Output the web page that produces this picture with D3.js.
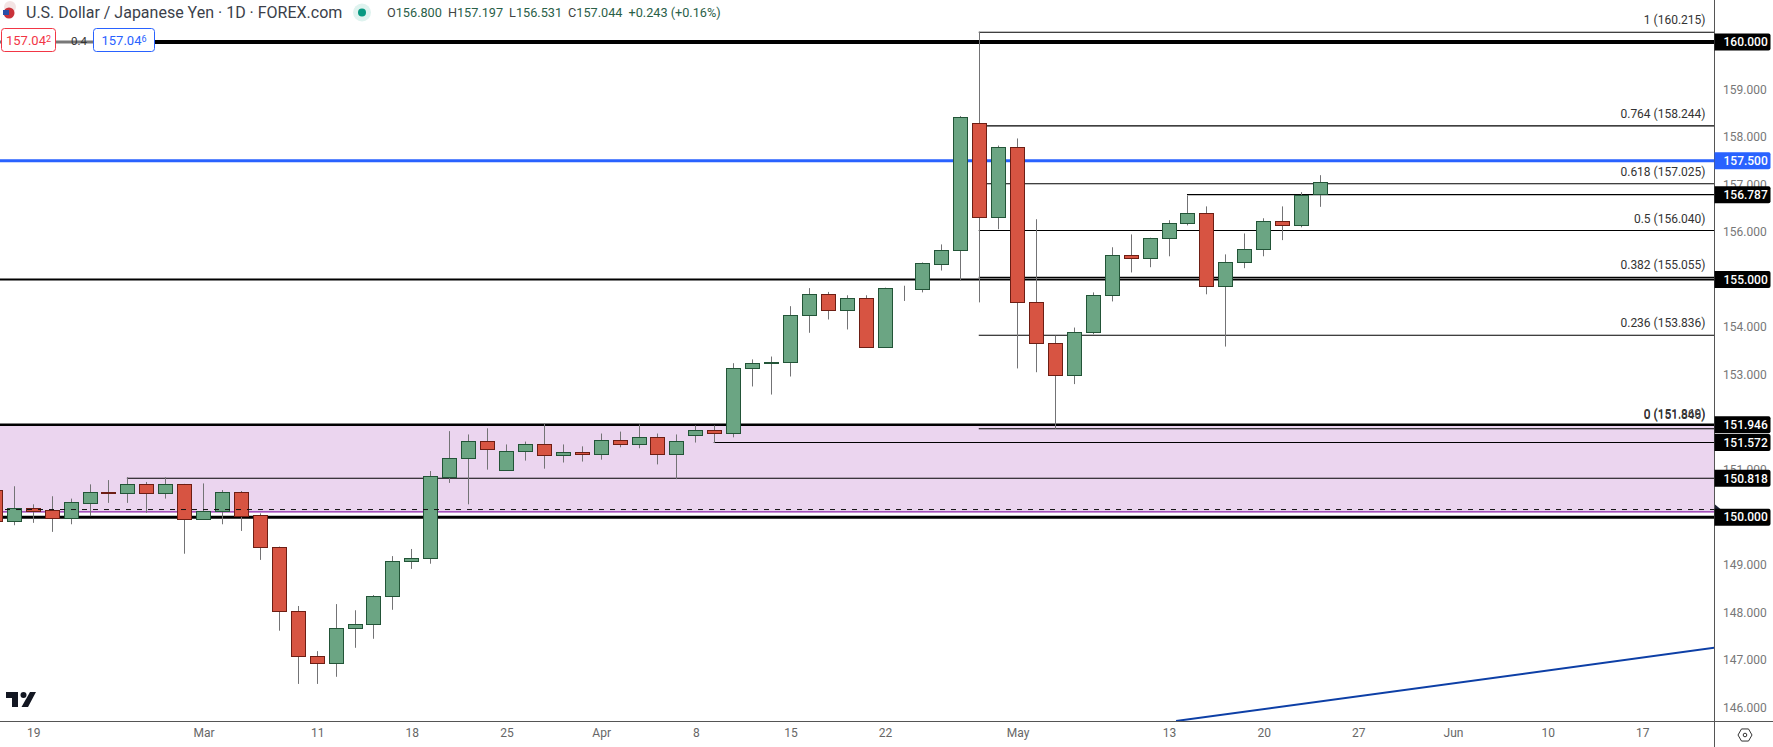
<!DOCTYPE html>
<html><head><meta charset="utf-8">
<script src="https://cdn.jsdelivr.net/npm/d3@7"></script>
<style>html,body{margin:0;padding:0;background:#fff;overflow:hidden}svg{display:block}text{font-family:Roboto,sans-serif}</style>
</head><body><svg id="c" width="1773" height="747"></svg>
<script>
const firstBar = -1;
const openV = [150.58,149.92,150.20,150.14,149.99,150.30,150.52,150.51,150.69,150.51,150.69,149.97,150.12,150.52,150.04,149.38,148.03,147.07,146.94,147.66,147.76,148.33,149.07,149.15,150.84,151.24,151.61,150.99,151.39,151.54,151.31,151.38,151.33,151.63,151.54,151.69,151.33,151.73,151.84,151.77,153.14,153.25,153.26,154.25,154.70,154.36,154.62,153.58,154.83,154.80,155.33,155.62,158.30,156.32,157.78,154.53,153.67,152.99,153.90,154.68,155.52,155.45,155.88,156.20,156.41,154.86,155.37,155.64,156.24,156.15,156.80];
const closeV = [149.92,150.20,150.13,149.99,150.31,150.52,150.51,150.69,150.51,150.69,149.97,150.12,150.52,150.03,149.38,148.03,147.07,146.94,147.66,147.76,148.33,149.07,149.15,150.86,151.25,151.61,151.43,151.40,151.54,151.31,151.38,151.33,151.63,151.54,151.69,151.33,151.61,151.84,151.77,153.14,153.25,153.27,154.26,154.70,154.36,154.62,153.58,154.83,154.82,155.34,155.63,158.43,156.32,157.78,154.53,153.66,152.99,153.90,154.68,155.52,155.45,155.88,156.20,156.41,154.86,155.38,155.65,156.24,156.15,156.79,157.044];
const highV = [150.62,150.65,150.27,150.44,150.39,150.69,150.78,150.84,150.74,150.84,150.70,150.71,150.57,150.55,150.08,149.38,148.13,147.18,148.17,148.04,148.36,149.18,149.33,150.97,151.81,151.74,151.87,151.53,151.59,151.97,151.53,151.49,151.76,151.80,151.95,151.76,151.74,151.93,151.93,153.24,153.32,153.38,154.44,154.82,154.74,154.67,154.67,154.83,154.87,155.36,155.74,158.44,160.215,157.82,157.97,156.27,153.82,153.99,154.73,155.68,155.95,155.88,156.25,156.77,156.54,155.53,155.97,156.29,156.54,156.84,157.197];
const lowV = [149.88,149.83,149.88,149.69,149.85,150.02,150.30,150.30,150.09,150.39,149.23,149.97,149.85,149.71,149.10,147.61,146.49,146.49,146.64,147.25,147.44,148.05,148.91,149.02,150.72,150.27,151.00,150.99,151.19,151.02,151.15,151.17,151.21,151.47,151.45,151.11,150.80,151.57,151.56,151.68,152.75,152.58,152.96,153.88,154.16,153.95,153.58,153.58,154.55,154.73,155.19,154.97,154.52,156.06,153.13,153.05,151.86,152.80,153.85,154.54,155.15,155.26,155.49,156.14,154.69,153.59,155.24,155.49,155.83,156.10,156.531];

const xTickBars = [1,10,16,21,26,31,36,41,46,53,61,66,71,76,81,86];
const xTickLabels = ["19","Mar","11","18","25","Apr","8","15","22","May","13","20","27","Jun","10","17"];
const priceTicks = [146,147,148,149,150,151,152,153,154,155,156,157,158,159,160];

const thickLevels = [160,155,151.946,150];
const thickWidths = [4,2,2.5,3];
const blueLevel = 157.5;
const fibStartBar = 51;
const fibLevels = [160.215,158.244,157.025,156.040,155.055,153.836,151.869];
const fibLabels = ["1 (160.215)","0.764 (158.244)","0.618 (157.025)","0.5 (156.040)","0.382 (155.055)","0.236 (153.836)","0 (151.846)","0 (151.869)"];
const fibLabelPrices = [160.215,158.244,157.025,156.040,155.055,153.836,151.846,151.869];
const rayLevels = [156.787,151.572,150.818];
const rayStartBars = [62,37,6];
const bandTop = 151.946, bandBottom = 150.11, dashedLevel = 150.16;
const trendBars = [61.37,89.8], trendPrices = [145.71,147.25];
const tagPrices = [160,157.5,156.787,155,151.946,151.572,150.818,150];
const tagColors = ["#000","#2962ff","#000","#000","#000","#000","#000","#000"];

const W=1773,H=747,plotR=1714,plotB=721;
const GREEN="#6ba583",GREEND="#225437",RED="#d75442",REDD="#6d1e14",WICK="#737375";
const svg=d3.select("#c");
const x=d3.scaleLinear().domain([0,69]).range([14.3,1320.5]);
const y=d3.scaleLinear().domain([146,160]).range([707.2,42]);
const fmt=d3.format(".3f");
svg.append("defs").append("clipPath").attr("id","plot").append("rect").attr("x",0).attr("y",0).attr("width",plotR).attr("height",plotB);
const g=svg.append("g").attr("clip-path","url(#plot)");

// band
g.append("rect").attr("x",0).attr("width",plotR).attr("y",y(bandTop)).attr("height",y(bandBottom)-y(bandTop)).attr("fill","#ebd5ef");
g.append("line").attr("x1",0).attr("x2",plotR).attr("y1",y(bandBottom)).attr("y2",y(bandBottom)).attr("stroke","#8e24aa").attr("stroke-width",1.2);

// thick levels
g.selectAll(".lvl").data(thickLevels).join("line").attr("x1",d=>d===160?155:0).attr("x2",plotR)
 .attr("y1",d=>y(d)).attr("y2",d=>y(d)).attr("stroke","#000").attr("stroke-width",(d,i)=>thickWidths[i]);
g.append("line").attr("x1",0).attr("x2",93).attr("y1",y(160)).attr("y2",y(160)).attr("stroke","#787878").attr("stroke-width",3);
g.append("line").attr("x1",0).attr("x2",plotR).attr("y1",y(blueLevel)).attr("y2",y(blueLevel)).attr("stroke","#2962ff").attr("stroke-width",3);

// fib and ray lines
g.selectAll(".fib").data(fibLevels).join("line").attr("x1",x(fibStartBar)-1).attr("x2",plotR)
 .attr("y1",d=>y(d)+.4).attr("y2",d=>y(d)+.4).attr("stroke","#000").attr("stroke-width",1.1);
g.selectAll(".ray").data(rayLevels).join("line").attr("x1",(d,i)=>x(rayStartBars[i])-1).attr("x2",plotR)
 .attr("y1",d=>y(d)).attr("y2",d=>y(d)).attr("stroke","#000").attr("stroke-width",1.1);

// trend line
g.append("line").attr("x1",x(trendBars[0])).attr("x2",x(trendBars[1])).attr("y1",y(trendPrices[0])).attr("y2",y(trendPrices[1]))
 .attr("stroke","#0d3fa6").attr("stroke-width",2);

// candles
const bars=openV.map((o,i)=>({i:i+firstBar,o,c:closeV[i],h:highV[i],l:lowV[i]}));
const cg=g.selectAll(".c").data(bars).join("g");
cg.append("line").attr("x1",d=>Math.floor(x(d.i))+.5).attr("x2",d=>Math.floor(x(d.i))+.5)
 .attr("y1",d=>y(d.h)).attr("y2",d=>y(d.l)).attr("stroke",WICK).attr("stroke-width",1);
cg.append("rect").attr("x",d=>Math.floor(x(d.i))-6.5).attr("width",14)
 .attr("y",d=>Math.round(y(Math.max(d.o,d.c)))+.5)
 .attr("height",d=>Math.max(0,Math.round(y(Math.min(d.o,d.c)))-Math.round(y(Math.max(d.o,d.c)))))
 .attr("fill",d=>d.c>=d.o?GREEN:RED).attr("stroke",d=>d.c>=d.o?GREEND:REDD).attr("stroke-width",1);

// dashed line over candles
g.append("line").attr("x1",5).attr("x2",plotR).attr("y1",y(dashedLevel)).attr("y2",y(dashedLevel))
 .attr("stroke","#111").attr("stroke-width",1).attr("stroke-dasharray","5 6");

// fib labels
svg.selectAll(".fl").data(fibLabels).join("text").attr("x",1705.5)
 .attr("y",(d,i)=>y(fibLabelPrices[i])-(i>=6?10:7.5)).attr("text-anchor","end")
 .attr("font-size",12).attr("fill","#333").text(d=>d);

// axes frame
svg.append("line").attr("x1",plotR+.5).attr("x2",plotR+.5).attr("y1",0).attr("y2",H).attr("stroke","#555");
svg.append("line").attr("x1",0).attr("x2",W).attr("y1",plotB+.5).attr("y2",plotB+.5).attr("stroke","#555");

// x axis
const xa=svg.append("g").attr("transform",`translate(0,${plotB})`)
 .call(d3.axisBottom(x).tickValues(xTickBars).tickFormat((d,i)=>xTickLabels[i]).tickSize(0).tickPadding(7));
xa.select(".domain").remove();
xa.selectAll("text").attr("font-size",12).attr("fill","#666").style("font-family","Roboto,sans-serif");

// y axis
const ya=svg.append("g").attr("transform",`translate(${plotR},0)`)
 .call(d3.axisRight(y).tickValues(priceTicks).tickFormat(fmt).tickSize(0).tickPadding(9));
ya.select(".domain").remove();
ya.selectAll("text").attr("font-size",12).attr("fill","#777").style("font-family","Roboto,sans-serif");

// price tags
svg.append("path").attr("d",`M${plotR+1},${y(dashedLevel)-5}l6,5l-6,5z`).attr("fill","#1a1f33");
const tags=svg.selectAll(".tag").data(tagPrices).join("g").attr("transform",d=>`translate(${plotR+.5},${y(d)})`);
tags.append("path").attr("d","M0,-8.5H54a2,2 0 0 1 2,2V6.5a2,2 0 0 1 -2,2H0Z").attr("fill",(d,i)=>tagColors[i]);
tags.append("text").attr("x",9).attr("y",4.3).attr("fill","#fff").attr("font-size",12).attr("font-weight",500).text(d=>fmt(d));

// settings icon
svg.append("path").attr("d",d3.line().curve(d3.curveLinearClosed)(d3.range(6).map(k=>[1745+7*Math.cos(k*Math.PI/3),735+7*Math.sin(k*Math.PI/3)])))
 .attr("fill","none").attr("stroke","#333").attr("stroke-width",1);
svg.append("circle").attr("cx",1745).attr("cy",735).attr("r",1.8).attr("fill","none").attr("stroke","#333");

// TV logo
const logo=svg.append("g").attr("transform","translate(6,692)").attr("fill","#131722");
logo.append("path").attr("d","M0,0H12V15H6V6H0Z");
logo.append("circle").attr("cx",17.5).attr("cy",3).attr("r",3);
logo.append("path").attr("d","M24,0H30L22,15H15.500Z");

// header
const flag=svg.append("g");
flag.append("circle").attr("cx",10).attr("cy",7).attr("r",6).attr("fill","#f3e4e4");
flag.append("circle").attr("cx",9).attr("cy",13).attr("r",5.5).attr("fill","#c9323a");
flag.append("rect").attr("x",3).attr("y",10).attr("width",6).attr("height",5).attr("fill","#2b4fa8");
svg.append("text").attr("x",26).attr("y",18).attr("font-size",16).attr("fill","#3b3f4a").text("U.S. Dollar / Japanese Yen · 1D · FOREX.com");
svg.append("circle").attr("cx",362).attr("cy",12.500).attr("r",9).attr("fill","#dff3ef");
svg.append("circle").attr("cx",362).attr("cy",12.500).attr("r",4).attr("fill","#089981");
const legend=[["O","156.800"],["H","157.197"],["L","156.531"],["C","157.044"]];
const lt=svg.append("text").attr("x",387).attr("y",17).attr("font-size",12.7).attr("fill","#333");
legend.forEach(([a,b],i)=>{lt.append("tspan").attr("dx",i?6:0).attr("fill","#444").text(a);lt.append("tspan").attr("fill","#2a6048").text(b);});
lt.append("tspan").attr("dx",6).attr("fill","#2a6048").text("+0.243 (+0.16%)");

// trade boxes
function box(x0,w,col,a,b){
 svg.append("rect").attr("x",x0+.5).attr("y",28.5).attr("width",w).attr("height",23).attr("rx",3).attr("fill","#fff").attr("stroke",col);
 const t=svg.append("text").attr("x",x0+w/2+.5).attr("y",45).attr("text-anchor","middle").attr("font-size",13).attr("fill",col);
 t.append("tspan").text(a);t.append("tspan").attr("font-size",9).attr("dy",-3).text(b);
}
box(1,54,"#f23645","157.04","2");
svg.append("text").attr("x",79).attr("y",45).attr("text-anchor","middle").attr("font-size",11.500).attr("fill","#333").text("0.4");
box(93,61,"#2962ff","157.04","6");
</script></body></html>
